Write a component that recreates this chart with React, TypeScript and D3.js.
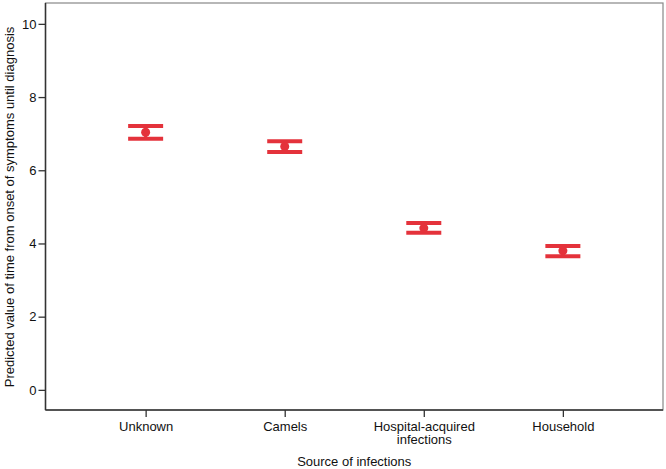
import React, { useEffect, useRef } from 'react';
import * as d3 from 'd3';

const WIDTH = 666;
const HEIGHT = 469;
const margin = { l: 45.5, r: 3, t: 3, b: 59 };

// estimated means with 95% CI
const categories = ['Unknown', 'Camels', 'Hospital-acquired infections', 'Household'];
const means = [7.04, 6.65, 4.42, 3.8];
const lower = [6.86, 6.5, 4.29, 3.65];
const upper = [7.21, 6.79, 4.56, 3.93];
const yTicks = [0, 2, 4, 6, 8, 10];

const RED = '#e4323b';
const FONT = 'Liberation Sans, Arial, sans-serif';

const App = () => {
  const w = WIDTH - margin.l - margin.r;
  const h = HEIGHT - margin.t - margin.b;

  const $xaxis = useRef<SVGGElement>(null);
  const $yaxis = useRef<SVGGElement>(null);

  const xScale = d3.scalePoint<string>().domain(categories).range([0, w]).padding(0.72);
  const yScale = d3.scaleLinear().domain([-0.55, 10.57]).range([h, 0]);

  useEffect(() => {
    const xAxis = d3.axisBottom(xScale).tickSize(7).tickSizeOuter(0);
    const yAxis = d3.axisLeft(yScale).tickValues(yTicks).tickSize(7).tickSizeOuter(0);

    const gx = d3.select($xaxis.current);
    gx.selectAll('*').remove();
    gx.call(xAxis as any);
    gx.select('.domain').remove();
    gx.selectAll('.tick line').attr('stroke', '#333').attr('stroke-width', 1.3);
    gx.selectAll('.tick text')
      .attr('fill', '#111')
      .style('font-family', FONT)
      .style('font-size', '13px')
      .attr('y', 12)
      .each(function (d: any) {
        // wrap long labels over two lines
        if (d === 'Hospital-acquired infections') {
          const t = d3.select(this);
          t.text(null);
          t.append('tspan').attr('x', 0).attr('dy', '0.71em').text('Hospital-acquired');
          t.append('tspan').attr('x', 0).attr('dy', '0.95em').text('infections');
        }
      });

    const gy = d3.select($yaxis.current);
    gy.selectAll('*').remove();
    gy.call(yAxis as any);
    gy.select('.domain').remove();
    gy.selectAll('.tick line').attr('stroke', '#333').attr('stroke-width', 1.3);
    gy.selectAll('.tick text')
      .attr('fill', '#111')
      .attr('x', -9)
      .style('font-family', FONT)
      .style('font-size', '13px');
  }, [xScale, yScale]);

  const capW = 35;

  return (
    <svg
      width={WIDTH}
      height={HEIGHT}
      viewBox={`0 0 ${WIDTH} ${HEIGHT}`}
      style={{ position: 'absolute', left: 0, top: 0, background: '#fff' }}
    >
      <g transform={`translate(${margin.l}, ${margin.t})`}>
        <rect x={0} y={0} width={w} height={h} fill="none" stroke="#888" strokeWidth={1.2} />
        <line x1={0} x2={0} y1={0} y2={h} stroke="#333" strokeWidth={1.5} />
        <line x1={0} x2={w} y1={h} y2={h} stroke="#333" strokeWidth={1.5} />

        <g ref={$xaxis} transform={`translate(0, ${h})`} />
        <g ref={$yaxis} />

        {categories.map((c, i) => {
          const cx = xScale(c) as number;
          return (
            <g key={c}>
              <line x1={cx} x2={cx} y1={yScale(lower[i])} y2={yScale(upper[i])} stroke={RED} strokeWidth={3} />
              <line x1={cx - capW / 2} x2={cx + capW / 2} y1={yScale(upper[i])} y2={yScale(upper[i])} stroke={RED} strokeWidth={4} />
              <line x1={cx - capW / 2} x2={cx + capW / 2} y1={yScale(lower[i])} y2={yScale(lower[i])} stroke={RED} strokeWidth={4} />
              <circle cx={cx} cy={yScale(means[i])} r={4.5} fill={RED} />
            </g>
          );
        })}
      </g>

      <text
        transform={`translate(14, 207) rotate(-90)`}
        textAnchor="middle"
        fontFamily={FONT}
        fontSize={13}
        fill="#111"
      >
        Predicted value of time from onset of symptoms until diagnosis
      </text>
      <text x={margin.l + w / 2} y={466} textAnchor="middle" fontFamily={FONT} fontSize={13} fill="#111">
        Source of infections
      </text>
    </svg>
  );
};

export default App;
